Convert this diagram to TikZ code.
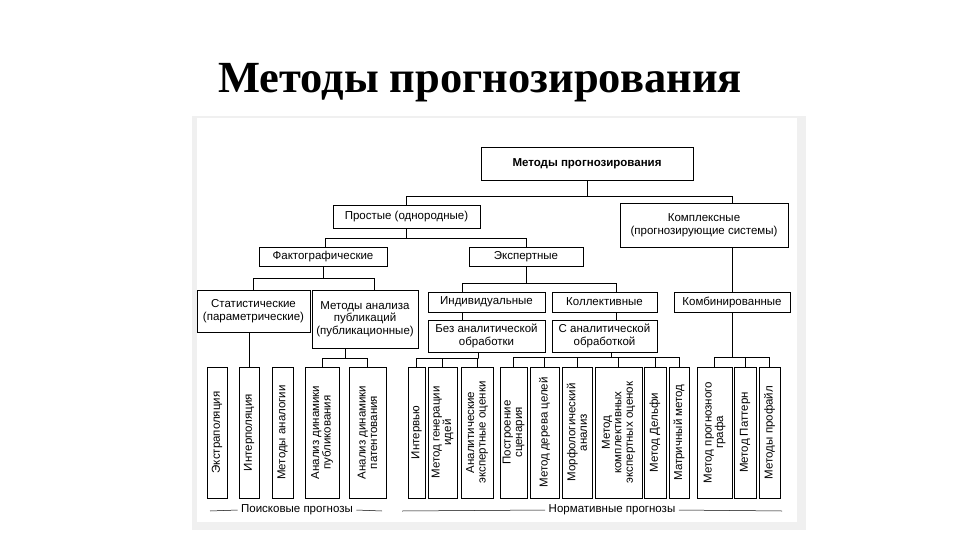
\documentclass[tikz,border=0pt]{standalone}
\usepackage{fontspec}
\setmainfont{Liberation Sans}
\newfontfamily\titlefont{Liberation Serif}
\tikzset{
  hb/.style={draw=black, line width=0.8pt, fill=white, inner sep=0pt, align=center, font=\fontsize{11.5}{12.5}\selectfont},
  vb/.style={draw=black, line width=0.8pt, fill=white, inner sep=0pt, align=center, rotate=90, font=\fontsize{11.5}{11.5}\selectfont},
  ln/.style={line width=0.8pt},
}
\newcommand\HB[6]{\node[hb, minimum width={(#3-#2)*1pt}, minimum height={(#5-#4)*1pt}] (#1) at ({(#2+#3)/2},{(#4+#5)/2}) {#6};}
\newcommand\VB[4]{\node[vb, minimum width=131pt, minimum height={(#3-#2)*1pt}] (#1) at ({(#2+#3)/2},432.5) {#4};}
\begin{document}
\begin{tikzpicture}[x=1pt,y=-1pt]
\useasboundingbox (0,0) rectangle (960,540);
\fill[white] (0,0) rectangle (960,540);
\fill[gray!12] (192,116) rectangle (806,530);
\fill[white] (197,118) rectangle (797,522);
\node (title) at (480,83) {\titlefont\bfseries\fontsize{44.5}{46}\selectfont Методы прогнозирования};

\HB{root}{481}{693}{147}{180}{\bfseries Методы прогнозирования}
\HB{simple}{333}{480}{205}{228}{Простые (однородные)}
\HB{complex}{620}{788}{203}{247}{Комплексные\\(прогнозирующие системы)}
\HB{fakt}{259}{387}{247}{266}{Фактографические}
\HB{exp}{469}{583}{247}{266}{Экспертные}
\HB{stat}{197}{310}{290}{332}{Статистические\\(параметрические)}
\HB{pub}{312}{418}{290}{348}{Методы анализа\\публикаций\\(публикационные)}
\HB{ind}{428}{545}{292}{312}{Индивидуальные}
\HB{col}{552}{657}{292}{312}{Коллективные}
\HB{bez}{428}{545}{320}{352}{Без аналитической\\обработки}
\HB{san}{552}{657}{320}{352}{С аналитической\\обработкой}
\HB{komb}{674}{790}{292}{312}{Комбинированные}

\VB{extr}{207}{227}{Экстраполяция}
\VB{interp}{239}{259}{Интерполяция}
\VB{anal}{272}{293}{Методы аналогии}
\VB{adp}{305}{339}{Анализ динамики\\публикования}
\VB{adpat}{349}{386}{Анализ динамики\\патентования}
\VB{intv}{408}{425}{Интервью}
\VB{gen}{428}{457}{Метод генерации\\идей}
\VB{aeo}{461}{493}{Аналитические\\экспертные оценки}
\VB{scen}{500}{527}{Построение\\сценария}
\VB{tree}{530}{559}{Метод дерева целей}
\VB{morf}{562}{592}{Морфологический\\анализ}
\VB{keo}{595}{642}{Метод\\комплективных\\экспертных оценок}
\VB{delf}{644}{666}{Метод Дельфи}
\VB{matr}{669}{689}{Матричный метод}
\VB{graf}{697}{732}{Метод прогнозного\\графа}
\VB{patt}{734}{756}{Метод Паттерн}
\VB{prof}{759}{780}{Методы профайл}

% connectors
\draw[ln] (root.south) -- ++(0,16) coordinate (j0);
\draw[ln] (simple.north) |- (j0);
\draw[ln] (j0) -| ([xshift=28pt]complex.north);
\draw[ln] (simple.south) -- ++(0,10) coordinate (j1);
\draw[ln] ([xshift=2pt]fakt.north) |- (j1) -| (exp.north);
\draw[ln] (fakt.south) -- ++(0,12) coordinate (j2);
\draw[ln] (stat.north) |- (j2) -| ([xshift=9pt]pub.north);
\draw[ln] (exp.south) -- ++(0,17) coordinate (j3);
\draw[ln] ([xshift=-24pt]ind.north) |- (j3) -| ([xshift=12pt]col.north);
\draw[ln] ([xshift=-24pt]ind.south) -- ([xshift=-24pt]bez.north);
\draw[ln] ([xshift=12pt]col.south) -- ([xshift=12pt]san.north);
\draw[ln] (komb.north) -- (complex.south -| komb.north);
\draw[ln] (stat.south -| interp.east) -- (interp.east);
\draw[ln] ([xshift=-20pt]pub.south) -- ++(0,10) coordinate (j4);
\draw[ln] (adp.east) |- (j4) -| (adpat.east);
\draw[ln] ([xshift=-8pt]bez.south) -- ++(0,6) coordinate (j5);
\draw[ln] (intv.east) |- (j5) -| (aeo.east);
\draw[ln] (gen.east) -- (gen.east |- j5);
\draw[ln] ([xshift=7pt]san.south) -- ++(0,5) coordinate (j6);
\draw[ln] (scen.east) |- (j6) -| (matr.east);
\foreach \n in {tree,morf,keo,delf} \draw[ln] (\n.east) -- (\n.east |- j6);
\draw[ln] (komb.south) -- ++(0,45) coordinate (j7);
\draw[ln] (graf.east) |- (j7) -| (prof.east);
\draw[ln] (patt.east) -- (patt.east |- j7);

% bottom labels
\node[font=\fontsize{11.5}{12}\selectfont] (poisk) at (297,510) {Поисковые прогнозы};
\node[font=\fontsize{11.5}{12}\selectfont] (norm) at (612,510) {Нормативные прогнозы};
\draw[line width=0.5pt] (210,511) -- (poisk.west);
\draw[line width=0.5pt] (poisk.east) -- (382,511);
\draw[line width=0.5pt] (402,511) -- (norm.west);
\draw[line width=0.5pt] (norm.east) -- (782,511);
\end{tikzpicture}
\end{document}
